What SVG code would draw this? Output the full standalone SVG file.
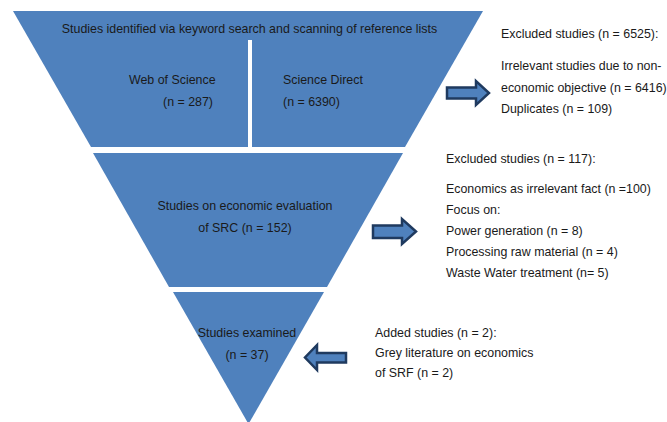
<svg xmlns="http://www.w3.org/2000/svg" width="667" height="422" viewBox="0 0 667 422">
  <style>
    .tier { fill: #4F81BD; }
    .txt { font-family: "Liberation Sans", Arial, sans-serif; font-size: 12.4px; fill: #1a1a1a; }
    .mid { text-anchor: middle; }
    .block { fill: #4F81BD; stroke: #1f3a5f; stroke-width: 2.5; stroke-linejoin: miter; }
  </style>
  <rect width="667" height="422" fill="#ffffff"/>

  <!-- Funnel tier 1: identified studies, split into two sources -->
  <g id="identified">
    <polygon class="tier" points="13,11 483,11 405,147 91,147"/>
    <rect x="248" y="40" width="4" height="108" fill="#ffffff"/>
    <text class="txt mid" x="249.5" y="33">Studies identified via keyword search and scanning of reference lists</text>
    <text class="txt" x="129" y="84">Web of Science</text>
    <text class="txt" x="163" y="106">(n = 287)</text>
    <text class="txt" x="283" y="84">Science Direct</text>
    <text class="txt" x="283" y="106">(n = 6390)</text>
  </g>

  <!-- Funnel tier 2: economic evaluation -->
  <g id="economic">
    <polygon class="tier" points="93,153 403,153 327,287 169,287"/>
    <text class="txt mid" x="245" y="210">Studies on economic evaluation</text>
    <text class="txt mid" x="245" y="232">of SRC (n = 152)</text>
  </g>

  <!-- Funnel tier 3: studies examined -->
  <g id="examined">
    <polygon class="tier" points="173,292 324,292 248.5,424"/>
    <text class="txt mid" x="247" y="337">Studies examined</text>
    <text class="txt mid" x="247" y="359">(n = 37)</text>
  </g>

  <!-- Side notes -->
  <g id="excluded-1">
    <text class="txt" x="501" y="38">Excluded studies (n = 6525):</text>
    <text class="txt" x="501" y="70">Irrelevant studies due to non-</text>
    <text class="txt" x="501" y="92">economic objective (n = 6416)</text>
    <text class="txt" x="501" y="113">Duplicates (n = 109)</text>
  </g>

  <g id="excluded-2">
    <text class="txt" x="446" y="163">Excluded studies (n = 117):</text>
    <text class="txt" x="446" y="193">Economics as irrelevant fact (n =100)</text>
    <text class="txt" x="446" y="214">Focus on:</text>
    <text class="txt" x="446" y="235">Power generation (n = 8)</text>
    <text class="txt" x="446" y="256">Processing raw material (n = 4)</text>
    <text class="txt" x="446" y="277">Waste Water treatment (n= 5)</text>
  </g>

  <g id="added">
    <text class="txt" x="375" y="337">Added studies (n = 2):</text>
    <text class="txt" x="375" y="357">Grey literature on economics</text>
    <text class="txt" x="375" y="377">of SRF (n = 2)</text>
  </g>

  <!-- Block arrows -->
  <g id="connectors">
    <path class="block" d="M447,87.5 H476 V81 L489,93 L476,105 V98.5 H447 Z"/>
    <path class="block" d="M373,225.5 H402 V219 L416,231.5 L402,244 V238 H373 Z"/>
    <path class="block" d="M346,353 H317 V345 L305,357.5 L317,370 V362.5 H346 Z"/>
  </g>
</svg>
